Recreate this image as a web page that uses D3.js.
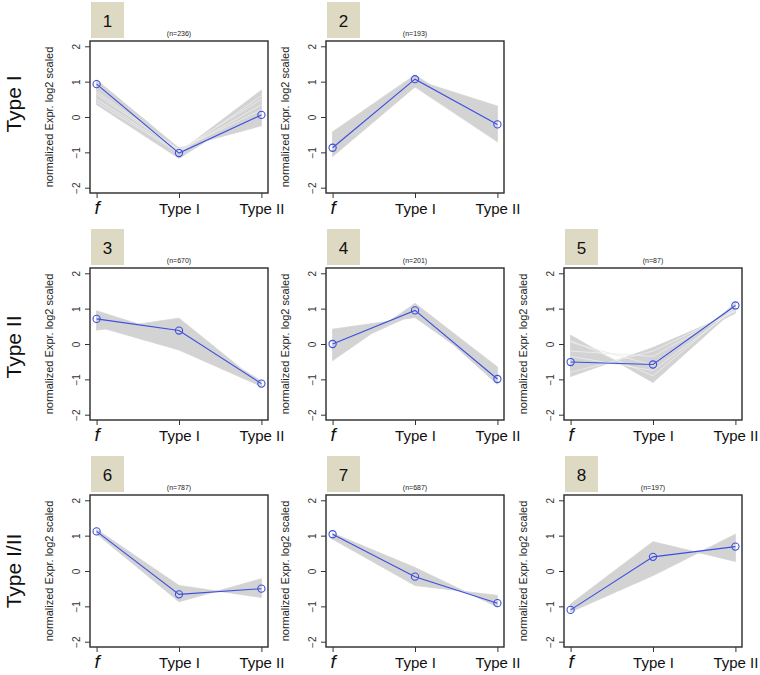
<!DOCTYPE html>
<html>
<head>
<meta charset="utf-8">
<script src="https://d3js.org/d3.v7.min.js"></script>
<style>
body { margin: 0; background: #fff; }
text { font-family: "Liberation Sans", Arial, sans-serif; }
</style>
</head>
<body>
<div id="chart"></div>
<script>
var svgWidth = 760;
var svgHeight = 675;

// ---- data ----
var stages = ["f", "Type I", "Type II"];
var yTicks = [-2, -1, 0, 1, 2];
var rowLabels = ["Type I", "Type II", "Type I/II"];
var clusterIds = [1, 2, 3, 4, 5, 6, 7, 8];
var clusterSizes = [236, 193, 670, 201, 87, 787, 687, 197];

// blue line = cluster centre
var centres = [
    [0.93, -1.02, 0.06],
    [-0.87, 1.07, -0.21],
    [0.71, 0.38, -1.12],
    [0.00, 0.95, -0.99],
    [-0.51, -0.58, 1.09],
    [1.12, -0.66, -0.50],
    [1.04, -0.16, -0.91],
    [-1.10, 0.40, 0.69]
];

// outer member profiles, their envelope is the grey band
var members = [
    [[1.05, -0.88, -0.25], [0.35, -1.17, 0.30], [0.80, -1.00, 0.76]],
    [[-0.42, 1.19, -0.30], [-1.12, 0.85, -0.70], [-0.87, 1.05, 0.31]],
    [[0.94, 0.20, -1.10], [0.39, 0.73, -1.15], [0.50, -0.17, -1.20], [0.60, 0.40, -1.05]],
    [[0.42, 0.75, -0.90], [-0.47, 1.15, -0.65], [0.00, 0.95, -1.14], [-0.20, 0.85, -1.00]],
    [[0.25, -1.09, 1.00], [-0.92, -0.10, 0.90], [0.00, -0.90, 1.17], [-0.70, -0.30, 0.87], [-0.50, -0.58, 1.10]],
    [[1.18, -0.41, -0.75], [1.05, -0.87, -0.22], [1.10, -0.60, -0.50]],
    [[1.07, 0.10, -1.02], [0.90, -0.41, -0.69], [1.00, -0.15, -0.90]],
    [[-0.93, 0.83, 0.27], [-1.16, -0.13, 1.04], [-1.10, 0.40, 0.70]]
];

// pale single profiles that show through the band (clusters 1 and 5)
var paleMembers = [
    [[0.65, -0.95, 0.50], [0.50, -0.98, 0.35], [0.42, -1.02, 0.60], [0.72, -0.92, 0.20]],
    [], [], [],
    [[0.10, -0.90, 1.05], [-0.20, -0.35, 0.95], [-0.35, -0.75, 1.00], [0.05, -0.60, 1.12], [-0.80, -0.20, 0.92]],
    [], [], []
];

// ---- layout ----
var colLeft = [90, 326, 564];
var rowTop = [41, 268, 495];
var panelPos = [[0, 0], [0, 1], [1, 0], [1, 1], [1, 2], [2, 0], [2, 1], [2, 2]];
var boxW = 178;
var boxH = 152;
var blue = "#3b4fe0";

var svg = d3.select("#chart")
    .append("svg")
    .attr("width", svgWidth)
    .attr("height", svgHeight);

// row labels on the far left
rowLabels.forEach(function (lab, r) {
    var cy = [104, 347, 571][r];
    svg.append("text")
        .attr("transform", `translate(13, ${cy}) rotate(-90)`)
        .attr("text-anchor", "middle")
        .attr("dominant-baseline", "central")
        .attr("font-size", 21)
        .attr("fill", "#111")
        .text(lab);
});

clusterIds.forEach(function (id, k) {
    var left = colLeft[panelPos[k][1]];
    var top = rowTop[panelPos[k][0]];

    var xScale = d3.scaleLinear()
        .domain([-0.08, 2.08])
        .range([left, left + boxW]);

    var yScale = d3.scaleLinear()
        .domain([-2.15, 2.15])
        .range([top + boxH, top]);

    var g = svg.append("g");

    // grey band: envelope of the member profiles
    var band = [];
    for (var i = 0; i < stages.length - 1; i++) {
        for (var s = 0; s <= 30; s++) {
            var t = s / 30;
            var vals = members[k].map(m => m[i] + (m[i + 1] - m[i]) * t);
            band.push({x: i + t, lo: d3.min(vals), hi: d3.max(vals)});
        }
    }
    var area = d3.area()
        .x(d => xScale(d.x))
        .y0(d => yScale(d.lo))
        .y1(d => yScale(d.hi));
    g.append("path")
        .datum(band)
        .attr("d", area)
        .attr("fill", "#d3d3d3")
        .attr("stroke", "#d3d3d3")
        .attr("stroke-width", 0.8);

    var line = d3.line()
        .x((d, j) => xScale(j))
        .y(d => yScale(d));

    g.selectAll(".pale")
        .data(paleMembers[k])
        .enter()
        .append("path")
        .attr("class", "pale")
        .attr("d", line)
        .attr("fill", "none")
        .attr("stroke", "#ebebeb")
        .attr("stroke-width", 0.9);

    // centre line + open circles
    g.append("path")
        .datum(centres[k])
        .attr("d", line)
        .attr("fill", "none")
        .attr("stroke", blue)
        .attr("stroke-width", 1.1);

    g.selectAll("circle")
        .data(centres[k])
        .enter()
        .append("circle")
        .attr("cx", (d, j) => xScale(j))
        .attr("cy", d => yScale(d))
        .attr("r", 3.6)
        .attr("fill", "none")
        .attr("stroke", blue)
        .attr("stroke-width", 1.1);

    // plot frame
    g.append("rect")
        .attr("x", left)
        .attr("y", top)
        .attr("width", boxW)
        .attr("height", boxH)
        .attr("fill", "none")
        .attr("stroke", "#2a2a2a")
        .attr("stroke-width", 1.4);

    // y axis
    var leftAxis = d3.axisLeft(yScale)
        .tickValues(yTicks)
        .tickSize(5)
        .tickFormat(d3.format("d"));
    var ya = g.append("g")
        .attr("transform", `translate(${left}, 0)`)
        .call(leftAxis);
    ya.select(".domain").remove();
    ya.selectAll("line").attr("stroke", "#333");
    ya.selectAll("text")
        .attr("transform", "rotate(-90)")
        .attr("x", 0)
        .attr("y", -10)
        .attr("dy", 0)
        .attr("text-anchor", "middle")
        .attr("font-size", 10)
        .attr("font-family", "Liberation Sans, Arial, sans-serif")
        .attr("fill", "#333");

    // x axis
    var bottomAxis = d3.axisBottom(xScale)
        .tickValues([0, 1, 2])
        .tickSize(5)
        .tickFormat(j => stages[j]);
    var xa = g.append("g")
        .attr("transform", `translate(0, ${top + boxH})`)
        .call(bottomAxis);
    xa.select(".domain").remove();
    xa.selectAll("line").attr("stroke", "#333");
    xa.selectAll("text")
        .attr("y", 21)
        .attr("dy", 0)
        .attr("font-size", 15)
        .attr("font-family", "Liberation Sans, Arial, sans-serif")
        .attr("fill", "#111");
    xa.selectAll("text")
        .filter(d => d === 0)
        .attr("font-family", "Liberation Serif, serif")
        .attr("font-style", "italic")
        .attr("font-size", 19);

    // y label
    g.append("text")
        .attr("transform", `translate(${left - 41}, ${top + boxH / 2}) rotate(-90)`)
        .attr("text-anchor", "middle")
        .attr("dominant-baseline", "central")
        .attr("font-size", 11)
        .attr("fill", "#222")
        .text("normalized Expr. log2 scaled");

    // (n=...) title
    g.append("text")
        .attr("x", left + boxW / 2)
        .attr("y", top - 5)
        .attr("text-anchor", "middle")
        .attr("font-size", 7)
        .attr("fill", "#222")
        .text(`(n=${clusterSizes[k]})`);

    // cluster number badge
    g.append("rect")
        .attr("x", left + 1)
        .attr("y", top - 39)
        .attr("width", 33)
        .attr("height", 36)
        .attr("fill", "#ddd9c3");
    g.append("text")
        .attr("x", left + 17.5)
        .attr("y", top - 14)
        .attr("text-anchor", "middle")
        .attr("font-family", "Open Sans, sans-serif")
        .attr("font-size", 17)
        .attr("fill", "#111")
        .text(id);
});
</script>
</body>
</html>
